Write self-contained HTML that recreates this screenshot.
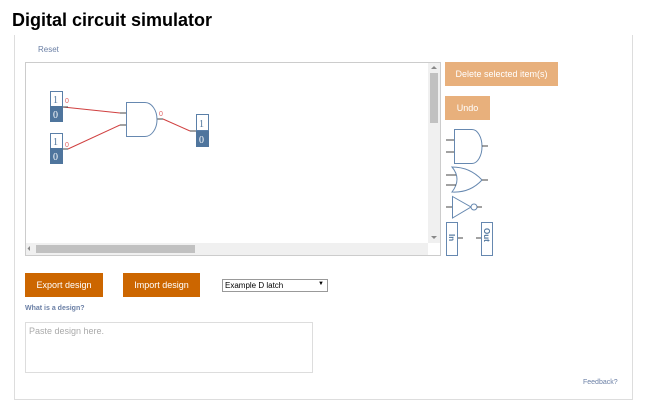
<!DOCTYPE html><html><head><style>
*{box-sizing:border-box;margin:0;padding:0}
body{width:665px;height:404px;background:#fff;position:relative;overflow:hidden;font-family:"Liberation Sans",Arial,sans-serif}
.a{position:absolute}
.btn{position:absolute;color:#fff;font-size:9px;display:flex;align-items:center;justify-content:center}
</style></head><body>
<div class="a" style="left:12px;top:10px;font-size:18px;font-weight:bold;color:#000">Digital circuit simulator</div>
<div class="a" style="left:14px;top:35px;width:619px;height:365px;border:1px solid #ddd;border-top:none"></div>
<div class="a" style="left:38px;top:45px;font-size:8px;color:#6a7fa5">Reset</div>
<div class="a" style="left:25px;top:62px;width:416px;height:194px;border:1px solid #ccc"></div>
<div class="a" style="left:428px;top:63px;width:12px;height:180px;background:#f0f0f0"></div>
<div class="a" style="left:430px;top:73px;width:8px;height:50px;background:#c1c1c1"></div>
<div class="a" style="left:26px;top:243px;width:402px;height:12px;background:#f0f0f0"></div>
<div class="a" style="left:36px;top:245px;width:159px;height:8px;background:#c1c1c1"></div>
<svg class="a" style="left:0;top:0" width="665" height="404">
<g fill="#888"><path d="M431 69l3-3 3 3z"/><path d="M431 236l3 3 3-3z"/><path d="M30 246v5l-2.5-2.5z"/></g>
<g font-family="Liberation Serif,serif" font-size="10">
<rect x="50.5" y="91.5" width="12" height="15" fill="#fff" stroke="#5a7fa8"/><rect x="50" y="106" width="13" height="16" fill="#4f759d"/>
<text x="53" y="103" fill="#4f759d">1</text><text x="53" y="118" fill="#fff">0</text>
<rect x="50.5" y="133.5" width="12" height="15" fill="#fff" stroke="#5a7fa8"/><rect x="50" y="148" width="13" height="16" fill="#4f759d"/>
<text x="53" y="145" fill="#4f759d">1</text><text x="53" y="160" fill="#fff">0</text>
<rect x="196.5" y="114.5" width="12" height="16" fill="#fff" stroke="#5a7fa8"/><rect x="196" y="131" width="13" height="16" fill="#4f759d"/>
<text x="199" y="127" fill="#4f759d">1</text><text x="199" y="143" fill="#fff">0</text>
</g>
<g font-size="7" fill="#e06060" font-family="Liberation Sans,sans-serif"><text x="65" y="103">0</text><text x="65" y="147">0</text><text x="159" y="116">0</text></g>
<g stroke="#d04040" fill="none" stroke-width="1"><path d="M63 107 L120 113"/><path d="M68 149 L120 125"/><path d="M163 119 L190 131"/></g>
<g stroke="#444" stroke-width="1"><path d="M63 107H68"/><path d="M63 149H68"/><path d="M120 113H126M120 125H126"/><path d="M157 119H163"/><path d="M190 131H196"/></g>
<path d="M126.5 102.5H145a12 17 0 0 1 0 34H126.5Z" fill="#fff" stroke="#6688b0"/>
<g stroke="#6688b0" fill="#fff">
<path d="M454.5 129.5H472a10 17 0 0 1 0 34H454.5Z"/>
<path d="M452 167Q462 179 452 192Q470 193 482 180Q470 167 452 167Z"/>
<path d="M452.5 196.5L471 207L452.5 218Z"/><circle cx="474" cy="207" r="3"/>
<rect x="446.5" y="222.5" width="11" height="33"/><rect x="481.5" y="222.5" width="11" height="33"/>
</g>
<g stroke="#444"><path d="M446 140H454M446 152H454M482 146H488M446 175H456M446 185H456M482 180H488M446 207H452M477 207H482M458 238H463M476 238H481"/></g>
<text transform="translate(449,234) rotate(90)" font-size="8" fill="#4f759d" font-weight="bold" font-family="Liberation Sans,sans-serif">In</text>
<text transform="translate(484,228) rotate(90)" font-size="8" fill="#4f759d" font-weight="bold" font-family="Liberation Sans,sans-serif">Out</text>
</svg>
<div class="btn" style="left:445px;top:62px;width:113px;height:24px;background:#e8b07c">Delete selected item(s)</div>
<div class="btn" style="left:445px;top:96px;width:45px;height:24px;background:#e8b07c">Undo</div>
<div class="btn" style="left:25px;top:273px;width:78px;height:24px;background:#cc6600">Export design</div>
<div class="btn" style="left:123px;top:273px;width:77px;height:24px;background:#cc6600">Import design</div>
<div class="a" style="left:222px;top:279px;width:106px;height:13px;border:1px solid #999;font-size:8px;padding:1px 2px;color:#000">Example D latch<span style="position:absolute;right:3px;top:1px;font-size:6px">▼</span></div>
<div class="a" style="left:25px;top:305px;font-size:7px;font-weight:bold;color:#6a7fa5">What is a design?</div>
<div class="a" style="left:25px;top:322px;width:288px;height:51px;border:1px solid #ddd;font-size:9px;color:#aaa;padding:3px 3px">Paste design here.</div>
<div class="a" style="left:583px;top:379px;font-size:7px;color:#6a7fa5">Feedback?</div>
</body></html>
